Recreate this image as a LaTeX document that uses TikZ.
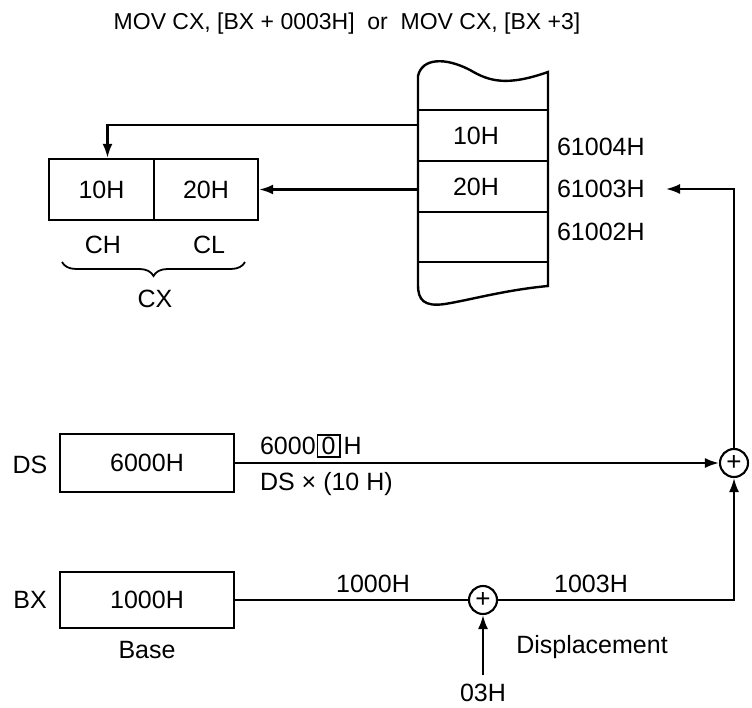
\documentclass[tikz,border=0pt]{standalone}
\usepackage{fontspec}
\setmainfont{Liberation Sans}
\usetikzlibrary{arrows.meta,decorations.pathreplacing}
\begin{document}
\begin{tikzpicture}[x=1pt,y=-1pt,
  line width=2.1pt,
  every node/.style={font=\fontsize{25}{29}\selectfont, inner sep=0pt},
  arr/.style={-{Latex[length=14pt,width=10pt]}},
  regbox/.style={draw, rectangle, line width=2.4pt},
  sumnode/.style={draw, circle, minimum size=28pt, inner sep=0pt, line width=2.1pt, font=\fontsize{26}{26}\selectfont},
]
\useasboundingbox[fill=white] (0,0) rectangle (752,708);

% title
\node[font=\fontsize{23}{27}\selectfont] (title) at (347,24) {MOV CX, [BX + 0003H]\ \ or\ \ MOV CX, [BX +3]};

% memory block
\draw[line width=2.4pt] (418,76) .. controls (422,58) and (445,57) .. (470,70)
  .. controls (490,82) and (508,86) .. (548,72) -- (548,286)
  .. controls (505,290) and (470,300) .. (445,304)
  .. controls (424,307) and (418,300) .. (418,285) -- cycle;
\foreach \yy in {110,161,212,262} \draw[line width=2.4pt] (418,\yy) -- (548,\yy);
\node (m10) at (476,136) {10H};
\node (m20) at (476,187) {20H};
\node[anchor=west] (a4) at (556,147) {61004H};
\node[anchor=west] (a3) at (556,189) {61003H};
\node[anchor=west] (a2) at (556,232) {61002H};
\coordinate (memA) at (418,125);
\coordinate (memB) at (418,189.5);
\coordinate (a3tip) at (666,189);

% CX register
\node[regbox, minimum width=105pt, minimum height=61pt] (cxh) at (101.5,189.5) {10H};
\node[regbox, minimum width=104pt, minimum height=61pt] (cxl) at (206,189.5) {20H};
\node (ch) at (103,245) {CH};
\node (cl) at (209,245) {CL};
\draw[line width=1.8pt, decorate, decoration={brace, mirror, amplitude=14pt}] (62,262) -- (245,262);
\node (cx) at (155,299) {CX};

\draw[arr] (memA) -| ([xshift=6pt]cxh.north);
\draw[arr] (memB) -- (cxl.east);

% DS / BX
\node[regbox, minimum width=174pt, minimum height=58pt] (ds) at (147,463) {6000H};
\node (dsl) at (30,465) {DS};
\node[regbox, minimum width=174pt, minimum height=56pt] (bx) at (147,600) {1000H};
\node (bxl) at (30,600) {BX};
\node (base) at (147,650) {Base};

\node[sumnode] (sum2) at (734,463) {+};
\node[sumnode] (sum1) at (483,600) {+};

\node[anchor=west] (dsv) at (259,446) {6000{\setlength{\fboxsep}{1.5pt}\setlength{\fboxrule}{1.5pt}\kern1pt\fbox{\kern2pt 0\kern2pt}}\kern3pt H};
\node[anchor=west] (dsm) at (259,484) {DS × (10 H)};

\node (v1000) at (373,584) {1000H};
\node (v1003) at (591,584) {1003H};
\node (disp) at (592,647) {Displacement};
\node (d03) at (483,693) {03H};
\coordinate (d03top) at (483,675);

\draw[arr] (ds.east) -- (sum2.west);
\draw (bx.east) -- (sum1.west);
\draw[arr] (sum1.east) -| (sum2.south);
\draw[arr] (d03top) -- (sum1.south);
\draw[arr] (sum2.north) |- (a3tip);
\end{tikzpicture}
\end{document}
